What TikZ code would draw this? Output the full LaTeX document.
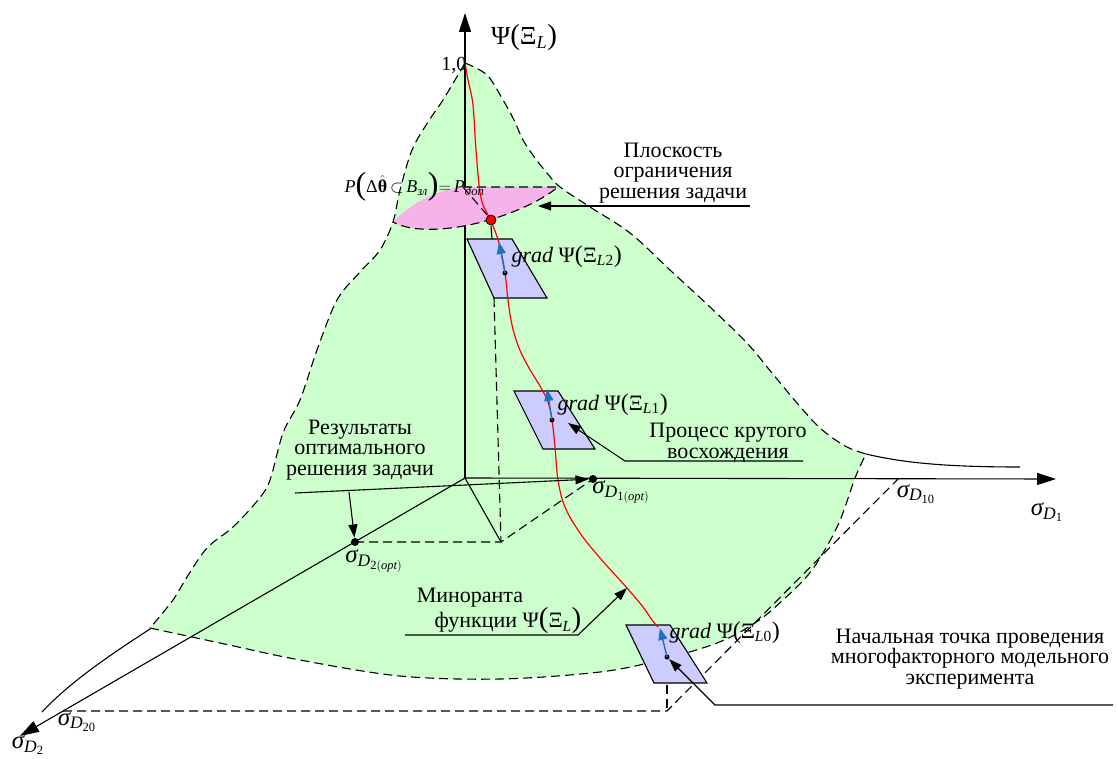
\documentclass[tikz,border=0pt]{standalone}
\usepackage{amsmath}
\usepackage{fontspec}
\setmainfont{Liberation Serif}
\usetikzlibrary{arrows.meta}
\definecolor{lgreen}{HTML}{CCFFCC}
\definecolor{lpink}{HTML}{F7B2E9}
\definecolor{pblue}{HTML}{CCCCFF}
\definecolor{barrow}{HTML}{1F70C0}
\newcommand{\mi}[1]{\text{\itshape #1}}
\newcommand{\up}[1]{\text{\upshape #1}}
\newcommand{\bpar}[2]{\text{\upshape\fontsize{#1}{#1}\selectfont #2}}
\begin{document}
\begin{tikzpicture}[x=1pt,y=-1pt,line width=1.1pt,
  axisarr/.style={-{Triangle[length=19pt,width=12pt]}},
  callarrow/.style={-{Triangle[length=13pt,width=9pt]}},
  dsh/.style={dash pattern=on 9pt off 5pt},
  txt/.style={font=\fontsize{22}{20.5}\selectfont,align=center,inner sep=0pt},
  sig/.style={font=\fontsize{25}{26}\selectfont,inner sep=0pt},
  gradlab/.style={font=\fontsize{22}{24}\selectfont,inner sep=0pt,anchor=west},
  planebox/.style={fill=pblue,draw=black,line width=1.1pt},
  dotS/.style={circle,fill=black,inner sep=0pt,minimum size=5pt},
  dotL/.style={circle,fill=black,inner sep=0pt,minimum size=8pt},
  reddot/.style={circle,fill=red,draw=black,line width=0.8pt,inner sep=0pt,minimum size=10pt},
  bluearr/.style={draw=barrow,line width=1.4pt,-{Triangle[length=12pt,width=9pt]}},
  redline/.style={draw=red,line width=1.2pt}
]
\useasboundingbox (0,0) rectangle (1118,759);

% green surface
\path[fill=lgreen,draw=black,dsh]
  plot[smooth,tension=0.55] coordinates {(465,63)(487,75)(503,100)(514,120)(523,140)(535,158)(547,173)(560,187)(590,207)(630,233)(670,270)(710,307)(747,343)(772,373)(797,403)(820,428)(845,446)(866,454)}
  -- plot[smooth,tension=0.55] coordinates {(866,454)(855,478)(838,525)(812,570)(783,600)(755,623)(717,643)(660,660)(600,672)(500,679)(400,676)(300,660)(220,643)(150,628)}
  -- plot[smooth,tension=0.55] coordinates {(150,628)(173,600)(187,577)(207,548)(233,527)(258,500)(270,480)(283,433)(300,400)(317,350)(337,300)(360,272)(380,250)(393,222)(400,190)(412,150)(428,122)(443,100)(465,63)}
  -- cycle;

% solid extensions
\coordinate (extR0) at (866,454);
\coordinate (extR1) at (1020,467);
\draw (extR0) .. controls (900,462) and (940,467) .. (extR1);
\coordinate (extL0) at (150,629);
\coordinate (extL1) at (42,712);
\draw (extL0) .. controls (110,655) and (70,682) .. (extL1);

% axes
\coordinate (O) at (465,478);
\coordinate (Ytip) at (465,13);
\coordinate (X1tip) at (1056,479);
\coordinate (X2tip) at (20,736);
\draw[axisarr] (O) -- (Ytip);
\draw[axisarr] (O) -- (X1tip);
\draw[axisarr] (O) -- (X2tip);

% projection lines
\coordinate (P1) at (501,542);
\coordinate (D20) at (63,711);
\coordinate (D10) at (898,479);
\coordinate (C0) at (667,711);
\node[dotL] (d1opt) at (593,479) {};
\node[dotL] (d2opt) at (355,542) {};
\draw (O) -- (P1);
\draw[dsh] (d2opt.center) -- (P1) -- (d1opt.center);
\draw[dsh] (494,298) -- (P1);
\draw[dsh] (D20) -- (C0) -- (D10);
\draw[dsh] (667,657) -- (C0);

% pink constraint plane
\path[fill=lpink] (393,222) .. controls (412,202) and (440,189) .. (463,187) -- (558,187) .. controls (520,218) and (430,242) .. (393,222) -- cycle;
\draw[dsh] (463,187) -- (558,187) .. controls (520,218) and (430,242) .. (393,222);
\draw[dsh] (463,187) -- (488,216);
\draw (491,226) -- (492,239);

% tangent planes
\path[planebox] (467,239) -- (512,239) -- (547,298) -- (494,298) -- cycle;
\path[planebox] (514,391) -- (558,391) -- (595,449) -- (543,449) -- cycle;
\path[planebox] (626,625) -- (670,625) -- (707,683) -- (654,683) -- cycle;

% red minorant curve
\draw[redline] plot[smooth,tension=0.6] coordinates {(465,63)(468,80)(473,105)(476,150)(481,198)(491,221)(499,243)(505,273)(508,300)(512,325)(519,348)(529,368)(540,386)(548,402)(552,420)(555,447)(558,480)(565,507)(580,533)(600,558)(627,588)(643,607)(652,620)(658,627)};

% gradient dots and arrows
\node[dotS] (g2) at (505,273) {};
\node[dotS] (g1) at (552,420) {};
\node[dotS] (g0) at (667,657) {};
\draw[bluearr] (g2.center) -- (499,242);
\draw[bluearr] (g1.center) -- (547,389);
\draw[bluearr] (g0.center) -- (660,628);
\node[reddot] (rdot) at (491,220) {};

% labels
\node[font=\fontsize{26}{28}\selectfont,inner sep=0pt] (ylab) at (524,38) {$\up{Ψ}\bpar{29}{(}\up{Ξ}_{\mi{L}}\bpar{29}{)}$};
\node[font=\fontsize{20}{22}\selectfont,inner sep=0pt,anchor=base east] (one) at (467,71) {1,0};
\node[font=\fontsize{18}{20}\selectfont,inner sep=0pt,anchor=base west] (plab) at (344,193) {$\mi{P}\raisebox{-2pt}{\bpar{32}{(}}\up{Δ}\hat{\text{\bfseries θ}}\,{\subset}\,\mi{B}_{\mi{зл}}\raisebox{-2pt}{\bpar{32}{)}}{=}\,\mi{P}_{\mi{доп}}$};
\node[gradlab] (gl2) at (511,257) {$\mi{grad}\ \up{Ψ}\bpar{24}{(}\up{Ξ}_{\mi{L}\text{2}}\bpar{24}{)}$};
\node[gradlab] (gl1) at (557,405) {$\mi{grad}\ \up{Ψ}\bpar{24}{(}\up{Ξ}_{\mi{L}\text{1}}\bpar{24}{)}$};
\node[gradlab] (gl0) at (669,633) {$\mi{grad}\ \up{Ψ}\bpar{24}{(}\up{Ξ}_{\mi{L}\text{0}}\bpar{24}{)}$};

\node[sig] (sD1) at (1047,512) {$\mi{σ}_{\mi{D}_{\text{1}}}$};
\node[sig] (sD10) at (916,494) {$\mi{σ}_{\mi{D}_{\text{10}}}$};
\node[sig] (sD1o) at (621,492) {$\mi{σ}_{\mi{D}_{\text{1}(\mi{opt})}}$};
\node[sig] (sD2o) at (374,561) {$\mi{σ}_{\mi{D}_{\text{2}(\mi{opt})}}$};
\node[sig] (sD20) at (77,722) {$\mi{σ}_{\mi{D}_{\text{20}}}$};
\node[sig] (sD2) at (28,745) {$\mi{σ}_{\mi{D}_{\text{2}}}$};

% callouts
\node[txt] (tPl) at (673,173) {Плоскость\\ограничения\\решения задачи};
\coordinate (plA) at (750,206);
\coordinate (plB) at (538,206);
\draw[callarrow] (plA) -- (plB);

\node[txt] (tRes) at (360,450) {Результаты\\оптимального\\решения задачи};
\coordinate (rA) at (295,493);
\coordinate (rB) at (349,492);
\draw[callarrow] (rA) -- (d1opt);
\draw[callarrow] (rB) -- (d2opt);

\node[txt] (tPr) at (728,443) {Процесс крутого\\восхождения};
\coordinate (pA) at (803,461);
\coordinate (pB) at (625,461);
\coordinate (pC) at (568,423);
\draw[callarrow] (pA) -- (pB) -- (pC);

\node[txt] (tMin1) at (470,598) {Миноранта};
\node[txt] (tMin2) at (508,621) {функции $\up{Ψ}\bpar{29}{(}\up{Ξ}_{\mi{L}}\bpar{29}{)}$};
\coordinate (mA) at (405,635);
\coordinate (mB) at (578,635);
\coordinate (mC) at (627,588);
\draw[callarrow] (mA) -- (mB) -- (mC);

\node[txt] (tNa) at (970,659) {Начальная точка проведения\\многофакторного модельного\\эксперимента};
\coordinate (nA) at (1113,705);
\coordinate (nB) at (715,705);
\draw[callarrow] (nA) -- (nB) -- (g0);
\end{tikzpicture}
\end{document}
